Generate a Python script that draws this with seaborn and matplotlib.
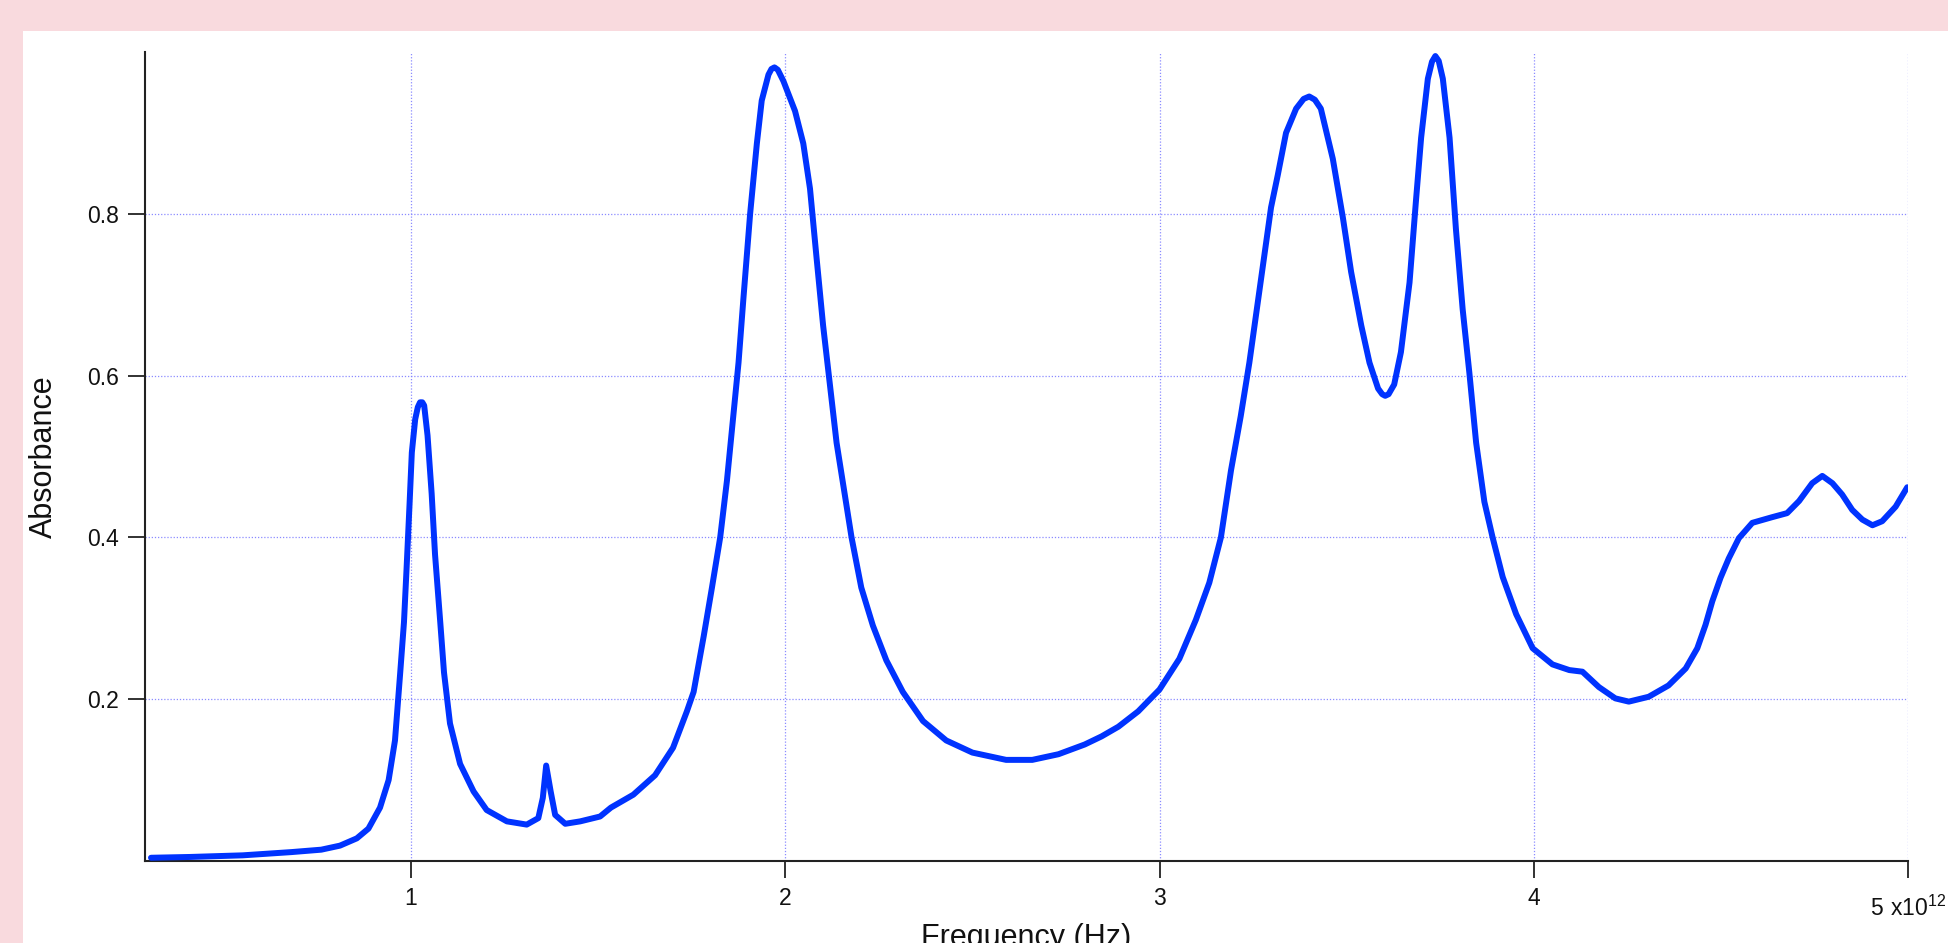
import numpy as np
import pandas as pd
import matplotlib
matplotlib.use("Agg")
import matplotlib.pyplot as plt
import matplotlib.patches as mpatches
import matplotlib.transforms as mtransforms
import seaborn as sns

# Absorbance spectrum, frequency read in units of 1e12 Hz
freq_thz = [
    0.305, 0.41, 0.55, 0.68, 0.76, 0.81, 0.855, 0.886, 0.917, 0.94,
    0.957, 0.971, 0.981, 0.988, 0.996, 1.002, 1.011, 1.018, 1.024, 1.03, 1.035, 1.044,
    1.055, 1.064, 1.078, 1.088, 1.104, 1.131, 1.167, 1.202, 1.256, 1.309,
    1.34, 1.352, 1.361, 1.373, 1.385, 1.412, 1.452, 1.505, 1.534, 1.594,
    1.652, 1.70, 1.737, 1.755, 1.782, 1.804, 1.826, 1.844, 1.861, 1.875,
    1.888, 1.906, 1.924, 1.937, 1.955, 1.963, 1.971, 1.98, 1.995, 2.026, 2.048, 2.066,
    2.083, 2.101, 2.119, 2.137, 2.155, 2.177, 2.203, 2.234, 2.27, 2.314,
    2.368, 2.43, 2.50, 2.59, 2.66, 2.73, 2.80, 2.845, 2.89, 2.943,
    3.0, 3.053, 3.097, 3.133, 3.164, 3.191, 3.217, 3.24, 3.262, 3.28,
    3.298, 3.316, 3.338, 3.365, 3.385, 3.40, 3.415, 3.431, 3.463, 3.49, 3.512, 3.539,
    3.561, 3.584, 3.595, 3.603, 3.612, 3.627, 3.645, 3.668, 3.685, 3.699, 3.717, 3.728, 3.737,
    3.746, 3.757, 3.775, 3.792, 3.81, 3.828, 3.846, 3.868, 3.89, 3.917, 3.953,
    3.997, 4.05, 4.095, 4.13, 4.174, 4.218, 4.254, 4.307, 4.36, 4.406,
    4.437, 4.459, 4.477, 4.499, 4.521, 4.548, 4.584, 4.637, 4.677, 4.709,
    4.744, 4.771, 4.798, 4.824, 4.851, 4.878, 4.905, 4.931, 4.967, 4.998,
]
absorbance = [
    0.004, 0.005, 0.007, 0.011, 0.014, 0.019, 0.028, 0.04, 0.066, 0.1,
    0.149, 0.233, 0.295, 0.362, 0.442, 0.505, 0.546, 0.561, 0.567, 0.567, 0.563, 0.526,
    0.454, 0.379, 0.295, 0.233, 0.17, 0.12, 0.086, 0.063, 0.049, 0.045,
    0.053, 0.078, 0.118, 0.086, 0.057, 0.046, 0.049, 0.055, 0.066, 0.082,
    0.106, 0.14, 0.185, 0.209, 0.278, 0.338, 0.40, 0.47, 0.55, 0.616,
    0.695, 0.80, 0.887, 0.94, 0.972, 0.979, 0.981, 0.978, 0.964, 0.927, 0.887, 0.831,
    0.748, 0.662, 0.589, 0.517, 0.464, 0.40, 0.338, 0.291, 0.248, 0.209,
    0.173, 0.149, 0.134, 0.125, 0.125, 0.132, 0.144, 0.154, 0.166, 0.185,
    0.212, 0.25, 0.298, 0.344, 0.40, 0.483, 0.55, 0.616, 0.689, 0.748,
    0.808, 0.848, 0.90, 0.93, 0.942, 0.945, 0.941, 0.93, 0.868, 0.795, 0.728, 0.662,
    0.616, 0.584, 0.577, 0.575, 0.577, 0.589, 0.629, 0.715, 0.815, 0.894, 0.967, 0.988, 0.995,
    0.989, 0.967, 0.894, 0.781, 0.682, 0.603, 0.517, 0.444, 0.40, 0.351, 0.305,
    0.263, 0.243, 0.236, 0.234, 0.215, 0.201, 0.197, 0.203, 0.217, 0.238,
    0.263, 0.292, 0.321, 0.35, 0.374, 0.399, 0.418, 0.425, 0.43, 0.445,
    0.467, 0.476, 0.467, 0.453, 0.434, 0.422, 0.415, 0.42, 0.438, 0.462,
]

x_ticks = [1, 2, 3, 4, 5]
x_tick_labels = ["1", "2", "3", "4", r"$\mathregular{5\ x10^{12}}$"]
y_ticks = [0.2, 0.4, 0.6, 0.8]
y_tick_labels = ["0.2", "0.4", "0.6", "0.8"]

df = pd.DataFrame({"Frequency": np.array(freq_thz) * 1e12, "Absorbance": absorbance})

sns.set_style("white")
plt.rcParams["font.family"] = ["Liberation Sans", "DejaVu Sans"]

fig = plt.figure(figsize=(19.48, 9.43), dpi=100)
fig.patch.set_facecolor("#f9dade")
# white panel (screenshot frame)
fig.patches.append(mpatches.Rectangle((23 / 1948, 0), 1 - 23 / 1948, (943 - 31) / 943,
                                      transform=fig.transFigure, facecolor="white",
                                      edgecolor="none", zorder=-5))

ax = fig.add_axes([145 / 1948, (943 - 861) / 943, (1908 - 145) / 1948, (861 - 52) / 943])
ax.set_facecolor("none")

sns.lineplot(data=df, x="Frequency", y="Absorbance", ax=ax, color="#0033ff",
             linewidth=4.3, sort=False, estimator=None, zorder=3,
             solid_joinstyle="round", solid_capstyle="round")

ax.set_xlim(0.289e12, 5.0e12)
ax.set_ylim(0, 1.0)
ax.set_xticks([t * 1e12 for t in x_ticks])
ax.set_xticklabels(x_tick_labels)
ax.set_yticks(y_ticks)
ax.set_yticklabels(y_tick_labels)

ax.grid(True, color="#7f7fff", linestyle=(0, (1, 1.5)), linewidth=0.9, alpha=0.9)
for side in ["top", "right"]:
    ax.spines[side].set_visible(False)
for side in ["left", "bottom"]:
    ax.spines[side].set_color("#222222")
    ax.spines[side].set_linewidth(1.5)

ax.tick_params(axis="both", direction="out", length=12, width=1.3, color="#222222",
               labelsize=16.5, labelcolor="#111111", pad=7, bottom=True, left=True)
ax.set_xlabel("Frequency (Hz)", fontsize=22, labelpad=1.5, color="#111111")
ax.set_ylabel("Absorbance", fontsize=22, labelpad=20, color="#111111")

# the exponent label sits a little lower than the other tick labels
last = ax.get_xticklabels()[-1]
last.set_transform(last.get_transform() +
                   mtransforms.ScaledTranslation(0, -8 / 100, fig.dpi_scale_trans))

fig.savefig("out.png", dpi=100, facecolor=fig.get_facecolor())
